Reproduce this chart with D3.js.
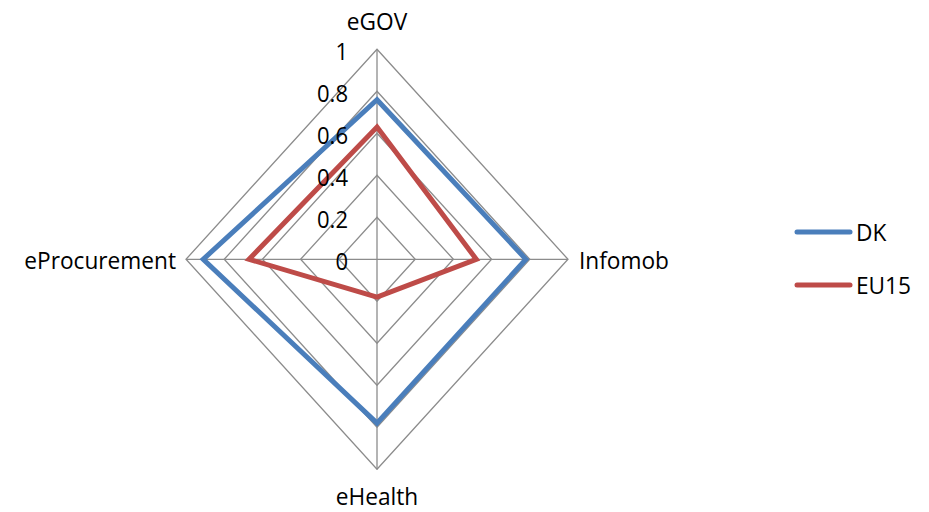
<!DOCTYPE html>
<html>
<head>
<meta charset="utf-8">
<script src="https://cdn.jsdelivr.net/npm/d3@7"></script>
<style>
  html, body { margin: 0; padding: 0; background: #fff; }
  svg { display: block; font-family: "Open Sans", Lato, sans-serif; }
</style>
</head>
<body>
<svg id="chart" width="929" height="512"></svg>
<script>
// Axes of the radar, clockwise from the top
const axes = ["eGOV", "Infomob", "eHealth", "eProcurement"];
// Series values per axis
const dkValues = [0.76, 0.78, 0.78, 0.91];
const eu15Values = [0.63, 0.52, 0.18, 0.67];
const seriesNames = ["DK", "EU15"];
const seriesColors = ["#4a7ebb", "#be4b48"];
// Radial tick labels
const tickValues = [0, 0.2, 0.4, 0.6, 0.8, 1];
const tickLabels = ["0", "0.2", "0.4", "0.6", "0.8", "1"];

const svg = d3.select("#chart");
const cx = 377, cy = 259.3;
const rx = d3.scaleLinear().domain([0, 1]).range([0, 191]);
const ry = d3.scaleLinear().domain([0, 1]).range([0, 210]);

// unit direction for each axis (top, right, bottom, left)
const dirs = axes.map((_, i) => {
  const a = -Math.PI / 2 + i * 2 * Math.PI / axes.length;
  return [Math.cos(a), Math.sin(a)];
});
const pt = (v, i) => [cx + rx(v) * dirs[i][0], cy + ry(v) * dirs[i][1]];

const line = d3.line().curve(d3.curveLinearClosed);

// text helper: slightly enlarged glyphs
function label(sel, x, y, anchor, txt, sx = 1.08) {
  return sel.append("text")
    .attr("transform", `translate(${x},${y}) scale(${sx},1.1)`)
    .attr("text-anchor", anchor).attr("font-size", 21).attr("fill", "#000")
    .text(txt);
}

// grid rings
const g = svg.append("g");
tickValues.filter(t => t > 0).forEach(t => {
  g.append("path")
    .attr("d", line(axes.map((_, i) => pt(t, i))))
    .attr("fill", "none").attr("stroke", "#8c8c8c").attr("stroke-width", 1.3);
});
// spokes
axes.forEach((_, i) => {
  const p = pt(1, i);
  g.append("line").attr("x1", cx).attr("y1", cy).attr("x2", p[0]).attr("y2", p[1])
    .attr("stroke", "#8c8c8c").attr("stroke-width", 1.3);
});

// series
[dkValues, eu15Values].forEach((vals, s) => {
  svg.append("path")
    .attr("d", line(vals.map((v, i) => pt(v, i))))
    .attr("fill", "none").attr("stroke", seriesColors[s])
    .attr("stroke-width", 5).attr("stroke-linejoin", "miter");
});

// tick labels along the top spoke
const tg = svg.append("g");
tickValues.forEach((t, i) => {
  label(tg, cx - 29, cy - ry(t) + 11, "end", tickLabels[i], 1.05);
});

// axis labels
const labelPos = [
  { x: cx, y: 29.5, anchor: "middle" },
  { x: 579, y: 269, anchor: "start" },
  { x: cx, y: 505, anchor: "middle" },
  { x: 176, y: 269, anchor: "end" }
];
axes.forEach((a, i) => label(svg, labelPos[i].x, labelPos[i].y, labelPos[i].anchor, a));

// legend
const legendY = [232, 285];
seriesNames.forEach((n, s) => {
  svg.append("line").attr("x1", 797).attr("x2", 850)
    .attr("y1", legendY[s]).attr("y2", legendY[s])
    .attr("stroke", seriesColors[s]).attr("stroke-width", 5).attr("stroke-linecap", "round");
  label(svg, 856, legendY[s] + 9, "start", n);
});
</script>
</body>
</html>
